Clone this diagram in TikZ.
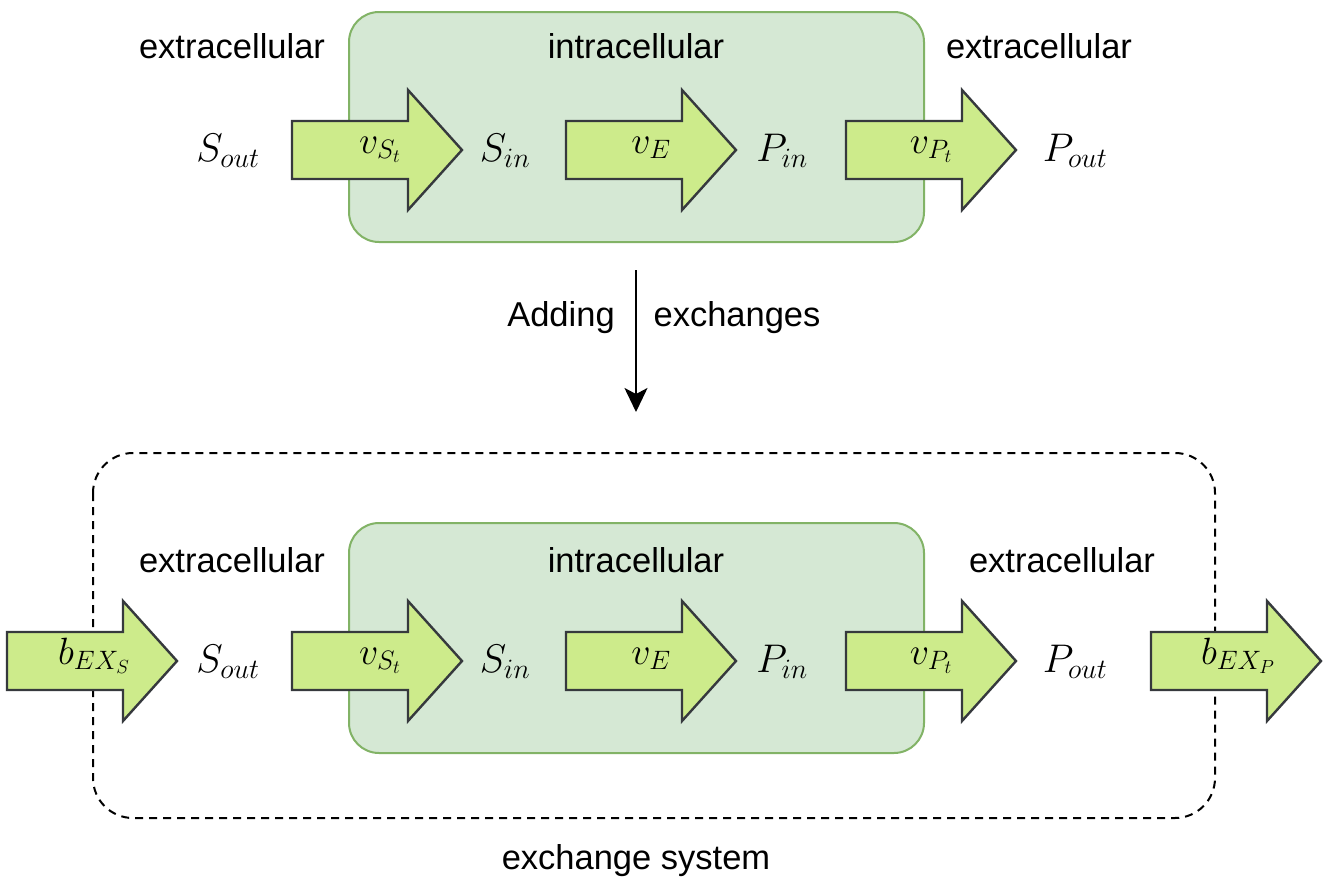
\RequirePackage{fix-cm}
\documentclass[tikz,border=0pt]{standalone}
\usepackage{fontspec}
\setmainfont{Liberation Sans}
\usetikzlibrary{arrows.meta}
\definecolor{cellfill}{HTML}{D5E8D4}
\definecolor{cellline}{HTML}{82B366}
\definecolor{fluxfill}{HTML}{CDEB8B}
\definecolor{fluxline}{HTML}{36393D}
\tikzset{
  cell/.style={draw=cellline, fill=cellfill, line width=2pt, rounded corners=30pt},
  region/.style={font=\fontsize{34.5}{40}\selectfont, anchor=base, inner sep=0pt},
  metab/.style={font=\fontsize{40}{48}\selectfont, anchor=base, inner sep=0pt},
  fluxlabel/.style={font=\fontsize{38}{46}\selectfont, anchor=base, inner sep=0pt},
  fluxbody/.style={draw=fluxline, fill=fluxfill, line width=2.4pt, line join=miter},
  flux/.pic={
    \draw[fluxbody] (-85,-29) -- (31,-29) -- (31,-60) -- (85,0) -- (31,60)
      -- (31,29) -- (-85,29) -- cycle;
    \coordinate (-c) at (0,0);
  }
}
\begin{document}
\begin{tikzpicture}[x=1pt, y=-1pt]
\useasboundingbox[fill=white] (0,0) rectangle (1325,881);

% ---------- upper scheme: plain cell ----------
\draw[cell] (349,12) rectangle (924,242);
\node[region] (ex1) at (232,58) {extracellular};
\node[region] (in1) at (636,58) {intracellular};
\node[region] (ex2) at (1039,58) {extracellular};

\pic (ts1) at (377,150) {flux};
\pic (te1) at (651,150) {flux};
\pic (tp1) at (931,150) {flux};
\node[fluxlabel] (lts1) at (380,153) {$v_{S_t}$};
\node[fluxlabel] (lte1) at (651,153) {$v_{E}$};
\node[fluxlabel] (ltp1) at (931,153) {$v_{P_t}$};

\node[metab] (sout1) at (228,161) {$S_{out}$};
\node[metab] (sin1) at (505,161) {$S_{in}$};
\node[metab] (pin1) at (782,161) {$P_{in}$};
\node[metab] (pout1) at (1075,161) {$P_{out}$};

% ---------- transition ----------
\coordinate (dtop) at (636,270);
\coordinate (dbot) at (636,412);
\draw[line width=2pt, -{Stealth[length=24pt, width=23pt, inset=6pt]}] (dtop) -- (dbot);
\node[region] (add) at (561,326) {Adding};
\node[region] (exch) at (737,326) {exchanges};

% ---------- lower scheme: cell with exchange reactions ----------
\draw[line width=2pt, dash pattern=on 8pt off 6pt, rounded corners=40pt]
  (93,453) rectangle (1215,818);
\node[region] (exsys) at (636,869) {exchange system};

\draw[cell] (349,523) rectangle (924,753);
\node[region] (ex3) at (232,572) {extracellular};
\node[region] (in2) at (636,572) {intracellular};
\node[region] (ex4) at (1062,572) {extracellular};

\pic (bs) at (92,661) {flux};
\pic (ts2) at (377,661) {flux};
\pic (te2) at (651,661) {flux};
\pic (tp2) at (931,661) {flux};
\pic (bp) at (1236,661) {flux};
\node[fluxlabel] (lbs) at (94,664) {$b_{EX_S}$};
\node[fluxlabel] (lts2) at (380,664) {$v_{S_t}$};
\node[fluxlabel] (lte2) at (651,664) {$v_{E}$};
\node[fluxlabel] (ltp2) at (931,664) {$v_{P_t}$};
\node[fluxlabel] (lbp) at (1238,664) {$b_{EX_P}$};

\node[metab] (sout2) at (228,672) {$S_{out}$};
\node[metab] (sin2) at (505,672) {$S_{in}$};
\node[metab] (pin2) at (782,672) {$P_{in}$};
\node[metab] (pout2) at (1075,672) {$P_{out}$};
\end{tikzpicture}
\end{document}
